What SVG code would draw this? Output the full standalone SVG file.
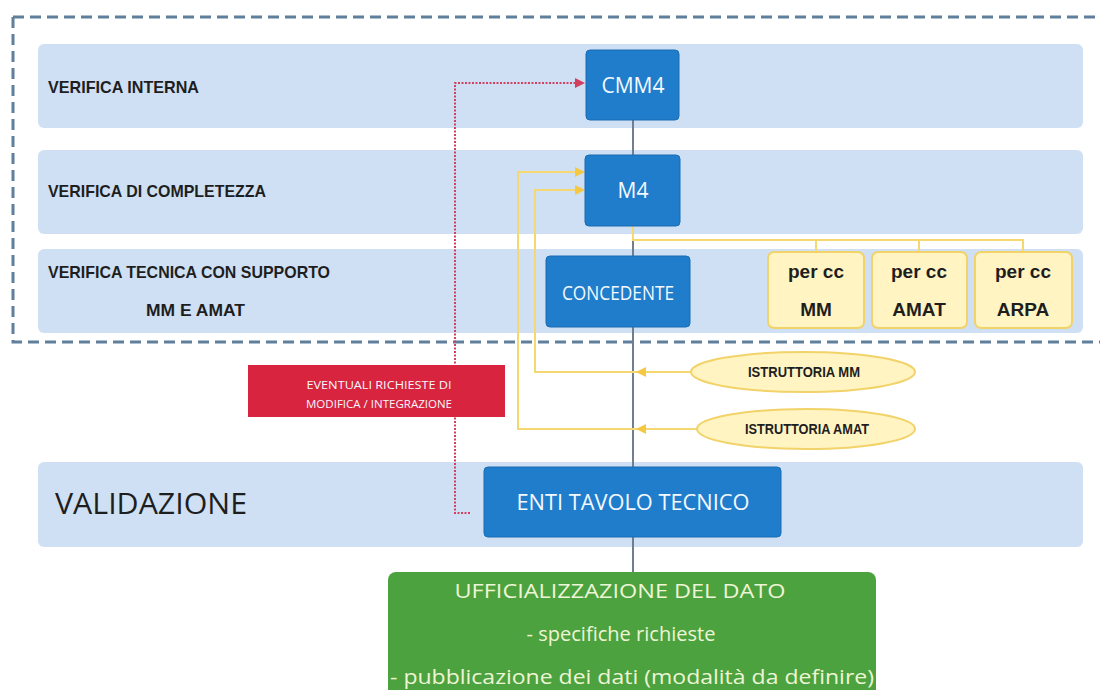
<svg xmlns="http://www.w3.org/2000/svg" width="1102" height="690" viewBox="0 0 1102 690">
<defs>
<style>
.band{fill:#cfe0f4}
.lbl{font-family:"Liberation Sans",Arial,sans-serif;font-weight:bold;font-size:17px;fill:#1e1e1e}
.blue{fill:#1f7dcb;stroke:#1a6db3;stroke-width:1}
.wt{font-family:"Open Sans","Liberation Sans",sans-serif;fill:#f4f8ff;text-anchor:middle}
.ybox{fill:#fff4c2;stroke:#f2d36a;stroke-width:2}
.yt{font-family:"Liberation Sans",Arial,sans-serif;font-weight:bold;font-size:19px;fill:#1e1e1e;text-anchor:middle}
.ell{fill:#fff4c2;stroke:#f2d36a;stroke-width:2}
.et{font-family:"Liberation Sans",Arial,sans-serif;font-weight:bold;font-size:14px;fill:#1e1e1e;text-anchor:middle}
.gray{stroke:#6f7f8f;stroke-width:2;fill:none}
.yl{stroke:#f5d870;stroke-width:2;fill:none}
.red{stroke:#d2405f;stroke-width:2;stroke-dasharray:2 1.5;fill:none}
.bord{stroke:#5f7f9c;stroke-width:3;stroke-dasharray:11 6;fill:none}
.gt{font-family:"Open Sans","Liberation Sans",sans-serif;font-size:20px;fill:#eef5d6;text-anchor:middle}
</style>
<marker id="ar" viewBox="0 0 10 10" refX="9" refY="5" markerWidth="5" markerHeight="5" orient="auto"><path d="M0,0 L10,5 L0,10 z" fill="#d2405f"/></marker>
<marker id="ay" viewBox="0 0 10 10" refX="9" refY="5" markerWidth="5" markerHeight="5" orient="auto"><path d="M0,0 L10,5 L0,10 z" fill="#f5c842"/></marker>
</defs>
<rect width="1102" height="690" fill="#ffffff"/>

<g id="bands">
<rect class="band" x="38" y="44" width="1045" height="84" rx="6"/>
<rect class="band" x="38" y="150" width="1045" height="84" rx="6"/>
<rect class="band" x="38" y="249" width="1045" height="84" rx="6"/>
<rect class="band" x="38" y="462" width="1045" height="85" rx="6"/>
<text class="lbl" x="48" y="93" textLength="151" lengthAdjust="spacingAndGlyphs">VERIFICA INTERNA</text>
<text class="lbl" x="48" y="197" textLength="218" lengthAdjust="spacingAndGlyphs">VERIFICA DI COMPLETEZZA</text>
<text class="lbl" x="48" y="278" textLength="282" lengthAdjust="spacingAndGlyphs">VERIFICA TECNICA CON SUPPORTO</text>
<text class="lbl" x="146" y="316" textLength="99" lengthAdjust="spacingAndGlyphs">MM E AMAT</text>
<text x="55" y="514" font-family="Open Sans,Liberation Sans,sans-serif" font-size="29" fill="#1e1e1e" textLength="192" lengthAdjust="spacingAndGlyphs">VALIDAZIONE</text>
</g>

<g id="border">
<path class="bord" d="M13,17 H1100 M13,17 V342 H1100"/>
</g>

<g id="connectors">
<path class="gray" d="M633,120 V155"/>
<path class="gray" d="M633,226 V467"/>
<path class="gray" d="M633,537 V572"/>
<path class="yl" d="M633,226 V240 H1023 V252 M816,240 V252 M919,240 V252"/>
<path class="yl" d="M690,372 H535 V190 H584" marker-end="url(#ay)"/>
<path class="yl" d="M697,429 H518 V172 H584" marker-end="url(#ay)"/>
<path d="M660,372 H637" stroke="#f5d870" stroke-width="2" marker-end="url(#ay)"/>
<path d="M660,429 H637" stroke="#f5d870" stroke-width="2" marker-end="url(#ay)"/>
<path class="red" d="M470,513 H455 V83 H584" marker-end="url(#ar)"/>
</g>

<g id="cmm4">
<rect class="blue" x="586" y="50" width="93" height="70" rx="4"/>
<text class="wt" x="633" y="93" font-size="21">CMM4</text>
</g>
<g id="m4">
<rect class="blue" x="585" y="155" width="95" height="71" rx="4"/>
<text class="wt" x="633" y="198" font-size="21">M4</text>
</g>
<g id="concedente">
<rect class="blue" x="546" y="256" width="144" height="71" rx="4"/>
<text class="wt" x="618" y="300" font-size="20" textLength="112" lengthAdjust="spacingAndGlyphs">CONCEDENTE</text>
</g>
<g id="percc-mm">
<rect class="ybox" x="768" y="252" width="96" height="76" rx="6"/>
<text class="yt" x="816" y="278">per cc</text>
<text class="yt" x="816" y="316">MM</text>
</g>
<g id="percc-amat">
<rect class="ybox" x="872" y="252" width="95" height="76" rx="6"/>
<text class="yt" x="919" y="278">per cc</text>
<text class="yt" x="919" y="316">AMAT</text>
</g>
<g id="percc-arpa">
<rect class="ybox" x="975" y="252" width="97" height="76" rx="6"/>
<text class="yt" x="1023" y="278">per cc</text>
<text class="yt" x="1023" y="316">ARPA</text>
</g>
<g id="richieste">
<rect x="248" y="365" width="257" height="52" fill="#d8243e"/>
<text class="wt" x="379" y="389" font-size="11" fill="#f6d6dc" textLength="145" lengthAdjust="spacingAndGlyphs">EVENTUALI RICHIESTE DI</text>
<text class="wt" x="379" y="408" font-size="11" fill="#f6d6dc" textLength="146" lengthAdjust="spacingAndGlyphs">MODIFICA / INTEGRAZIONE</text>
</g>
<g id="istr-mm">
<ellipse class="ell" cx="803" cy="372" rx="112" ry="20"/>
<text class="et" x="804" y="377" textLength="112" lengthAdjust="spacingAndGlyphs">ISTRUTTORIA MM</text>
</g>
<g id="istr-amat">
<ellipse class="ell" cx="806" cy="429" rx="109" ry="20"/>
<text class="et" x="807" y="434" textLength="124" lengthAdjust="spacingAndGlyphs">ISTRUTTORIA AMAT</text>
</g>
<g id="enti">
<rect class="blue" x="484" y="467" width="297" height="70" rx="4"/>
<text class="wt" x="633" y="510" font-size="21" textLength="233" lengthAdjust="spacingAndGlyphs">ENTI  TAVOLO TECNICO</text>
</g>
<g id="ufficializzazione">
<rect x="388" y="572" width="488" height="130" rx="8" fill="#4ca23e"/>
<text class="gt" x="620" y="598" textLength="331" lengthAdjust="spacingAndGlyphs">UFFICIALIZZAZIONE DEL DATO</text>
<text class="gt" x="621" y="641" textLength="189" lengthAdjust="spacingAndGlyphs">- specifiche richieste</text>
<text class="gt" x="632" y="684" textLength="484" lengthAdjust="spacingAndGlyphs">- pubblicazione dei dati (modalità da definire)</text>
</g>
</svg>
